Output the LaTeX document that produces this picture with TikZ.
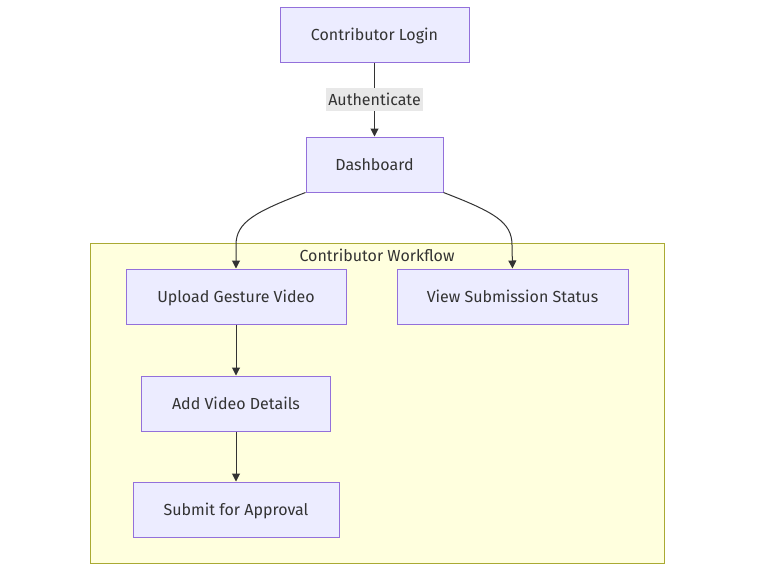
\documentclass[tikz,border=0pt]{standalone}
\usepackage{fontspec}
\setmainfont{Fira Sans}
\usetikzlibrary{arrows.meta}
\definecolor{nodefill}{HTML}{ECECFF}
\definecolor{nodeline}{HTML}{9370DB}
\definecolor{txt}{HTML}{333333}
\definecolor{clfill}{HTML}{FFFFDE}
\definecolor{clline}{HTML}{AAAA33}
\definecolor{lblbg}{HTML}{E8E8E8}
\begin{document}
\begin{tikzpicture}[x=1pt,y=-1pt,
  fnt/.style={font=\fontsize{16}{19}\selectfont,text height=13pt,text depth=2pt},
  box/.style={fnt,draw=nodeline,fill=nodefill,line width=1pt,minimum height=55pt,inner sep=0pt,text=txt},
  edge/.style={draw=txt,line width=1pt,-{Triangle[length=8pt,width=8pt]}},
  lbl/.style={fnt,fill=lblbg,text=txt,inner sep=2pt,minimum height=23pt}]
\useasboundingbox (0,0) rectangle (765,576);
\fill[white] (0,0) rectangle (765,576);
\node[draw=clline,fill=clfill,line width=1pt,minimum width=574pt,minimum height=320pt,inner sep=0pt] (cl) at (377,403) {};
\node[fnt,text=txt,inner sep=0pt] (cltitle) at (377,256) {Contributor Workflow};
\node[box,minimum width=189pt] (login) at (374.5,34.5) {Contributor Login};
\node[box,minimum width=137pt] (dash) at (374.5,164.5) {Dashboard};
\node[box,minimum width=220pt] (up) at (236,296.5) {Upload Gesture Video};
\node[box,minimum width=231pt] (view) at (512.5,296.5) {View Submission Status};
\node[box,minimum width=189pt] (add) at (236,403.5) {Add Video Details};
\node[box,minimum width=206pt] (sub) at (236,509.5) {Submit for Approval};
\draw[edge] (login) -- node[lbl] (auth) {Authenticate} (dash);
\draw[edge] (dash.south west) .. controls (255,212) and (236,222) .. (236,245) -- (up.north);
\draw[edge] (dash.south east) .. controls (494,212) and (512,222) .. (512,245) -- (view.north);
\draw[edge] (up) -- (add);
\draw[edge] (add) -- (sub);
\end{tikzpicture}
\end{document}
